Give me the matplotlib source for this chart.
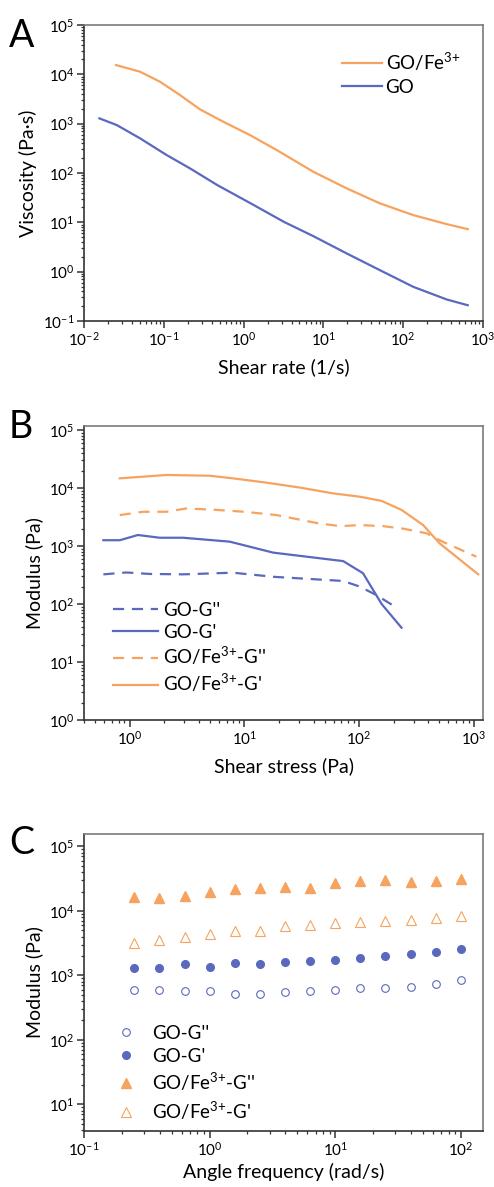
import matplotlib
matplotlib.use('Agg')
import matplotlib.pyplot as plt
from matplotlib.ticker import LogLocator, FuncFormatter, NullFormatter
import numpy as np

plt.rcParams['font.family'] = ['Lato', 'DejaVu Sans']
plt.rcParams['mathtext.fontset'] = 'custom'
plt.rcParams['mathtext.rm'] = 'Lato'
plt.rcParams['mathtext.it'] = 'Lato:italic'
plt.rcParams['mathtext.bf'] = 'Lato:bold'

ORANGE = '#F6A35F'
BLUE = '#5A68BE'

# ---------------- Panel A: viscosity vs shear rate ----------------
a_rate_fe = [0.0252, 0.0504, 0.0896, 0.1596, 0.284, 0.557, 1.20, 2.60, 7.47, 19.6, 51.2, 134, 351, 643]
a_visc_fe = [15400, 11300, 7080, 3800, 1950, 1094, 588, 292, 106, 48.8, 24.2, 14.0, 9.19, 7.28]
a_rate_go = [0.0156, 0.0257, 0.0504, 0.1087, 0.213, 0.468, 1.23, 3.21, 7.47, 19.6, 51.2, 134, 351, 643]
a_visc_go = [1280, 938, 504, 231, 124, 56.9, 24.2, 10.2, 5.25, 2.34, 1.07, 0.492, 0.273, 0.209]

# ---------------- Panel B: modulus vs shear stress ----------------
b_stress_fe_g1 = [0.82, 2.09, 4.98, 7.95, 15.5, 30.4, 59, 101, 157, 234, 361, 503, 1090]
b_mod_fe_g1 = [14700, 16800, 16300, 14700, 12400, 10200, 8100, 7100, 6000, 4200, 2300, 1110, 325]
b_stress_fe_g2 = [0.82, 1.31, 2.09, 3.12, 5.7, 10, 19, 42.5, 68, 101, 162, 240, 386, 537, 1050]
b_mod_fe_g2 = [3420, 3900, 3900, 4450, 4200, 3900, 3420, 2500, 2200, 2300, 2200, 2000, 1660, 1180, 655]
b_stress_go_g1 = [0.59, 0.82, 1.18, 1.83, 2.92, 7.45, 17.8, 45.4, 72.5, 108, 157, 234]
b_mod_go_g1 = [1260, 1260, 1550, 1390, 1390, 1190, 770, 615, 550, 340, 100, 39]
b_stress_go_g2 = [0.59, 0.94, 1.5, 2.92, 7.95, 17.8, 42.5, 72.5, 101, 141, 198]
b_mod_go_g2 = [325, 350, 330, 325, 347, 295, 266, 250, 200, 143, 94]

# ---------------- Panel C: modulus vs angular frequency ----------------
c_freq = [0.251, 0.398, 0.631, 1.0, 1.585, 2.51, 3.98, 6.31, 10, 15.8, 25.1, 39.8, 63.1, 100]
c_go_g2 = [592, 585, 578, 564, 519, 513, 551, 571, 585, 635, 643, 666, 725, 857]
c_go_g1 = [1315, 1285, 1500, 1330, 1540, 1500, 1590, 1690, 1750, 1840, 1970, 2120, 2330, 2540]
c_fe_g2 = [16300, 15700, 17100, 19300, 21700, 22500, 23900, 23000, 26900, 29300, 30300, 27900, 29500, 31000]
c_fe_g1 = [3140, 3540, 3990, 4340, 4890, 4940, 5840, 6060, 6430, 6740, 7080, 7330, 7870, 8450]

W, H = 494, 1187
fig = plt.figure(figsize=(W / 100, H / 100), dpi=100)

FE = r'GO/Fe$^{3{+}}$'


def fmt(v, p):
    e = int(round(np.log10(v)))
    return r'$10^{%d}$' % e


def style(ax):
    ax.set_xscale('log')
    ax.set_yscale('log')
    for s in ['left', 'bottom']:
        ax.spines[s].set_color('#333333')
        ax.spines[s].set_linewidth(1.2)
    for s in ['top', 'right']:
        ax.spines[s].set_color('#7a7a7a')
        ax.spines[s].set_linewidth(1.2)
    for axis in (ax.xaxis, ax.yaxis):
        axis.set_major_locator(LogLocator(base=10, numticks=20))
        axis.set_minor_locator(LogLocator(base=10, subs=np.arange(2, 10), numticks=20))
        axis.set_major_formatter(FuncFormatter(fmt))
        axis.set_minor_formatter(NullFormatter())
    ax.tick_params(which='major', direction='out', length=5, width=1.1, color='#333333',
                   labelsize=11, pad=2)
    ax.tick_params(which='minor', direction='out', length=2.5, width=0.9, color='#333333')
    ax.tick_params(top=False, right=False, which='both')


def axes_px(top, bottom):
    left, right = 84, 483
    return [left / W, 1 - bottom / H, (right - left) / W, (bottom - top) / H]


LAB = 14

# Panel A
axA = fig.add_axes(axes_px(25, 321))
style(axA)
axA.plot(a_rate_fe, a_visc_fe, color=ORANGE, lw=1.6, label=FE)
axA.plot(a_rate_go, a_visc_go, color=BLUE, lw=1.6, label='GO')
axA.set_xlim(1e-2, 1e3)
axA.set_ylim(1e-1, 1e5)
axA.set_xlabel('Shear rate (1/s)', fontsize=LAB, labelpad=7)
axA.set_ylabel('Viscosity (Pa·s)', fontsize=LAB, labelpad=4)
axA.legend(loc='upper right', bbox_to_anchor=(0.985, 0.97), frameon=False, fontsize=13.5,
           handlelength=2.1, handletextpad=0.2, labelspacing=0.3)

# Panel B
axB = fig.add_axes(axes_px(426, 720))
style(axB)
axB.plot(b_stress_go_g2, b_mod_go_g2, color=BLUE, lw=1.6, ls=(0, (5, 3.5)), label="GO-G''")
axB.plot(b_stress_go_g1, b_mod_go_g1, color=BLUE, lw=1.6, label="GO-G'")
axB.plot(b_stress_fe_g2, b_mod_fe_g2, color=ORANGE, lw=1.6, ls=(0, (5, 3.5)), label=FE + "-G''")
axB.plot(b_stress_fe_g1, b_mod_fe_g1, color=ORANGE, lw=1.6, label=FE + "-G'")
axB.set_xlim(0.4, 1200)
axB.set_ylim(1e0, 10 ** 5.07)
axB.set_xlabel('Shear stress (Pa)', fontsize=LAB, labelpad=7)
axB.set_ylabel('Modulus (Pa)', fontsize=LAB, labelpad=4)
axB.legend(loc='lower left', bbox_to_anchor=(0.03, 0.03), frameon=False, fontsize=13.5,
           handlelength=2.4, handletextpad=0.3, labelspacing=0.25)

# Panel C
axC = fig.add_axes(axes_px(834, 1131))
style(axC)
axC.plot(c_freq, c_go_g2, ls='none', marker='o', ms=5.5, mfc='none', mec=BLUE, mew=0.8, label="GO-G''")
axC.plot(c_freq, c_go_g1, ls='none', marker='o', ms=5.5, mfc=BLUE, mec=BLUE, label="GO-G'")
axC.plot(c_freq, c_fe_g2, ls='none', marker='^', ms=6.5, mfc=ORANGE, mec=ORANGE, label=FE + "-G''")
axC.plot(c_freq, c_fe_g1, ls='none', marker='^', ms=6.5, mfc='none', mec=ORANGE, mew=0.8, label=FE + "-G'")
axC.set_xlim(0.1, 150)
axC.set_ylim(3.85, 1.56e5)
axC.set_xlabel('Angle frequency (rad/s)', fontsize=LAB, labelpad=3)
axC.set_ylabel('Modulus (Pa)', fontsize=LAB, labelpad=4)
axC.legend(loc='lower left', bbox_to_anchor=(0.04, -0.025), frameon=False, fontsize=13.5,
           handlelength=1.0, handletextpad=0.9, labelspacing=0.33)

# Panel letters
fig.text(9 / W, 1 - 36 / H, 'A', fontsize=27, va='center', ha='left')
fig.text(9 / W, 1 - 427 / H, 'B', fontsize=27, va='center', ha='left')
fig.text(9 / W, 1 - 843 / H, 'C', fontsize=27, va='center', ha='left')

fig.savefig('out.png', dpi=100)
